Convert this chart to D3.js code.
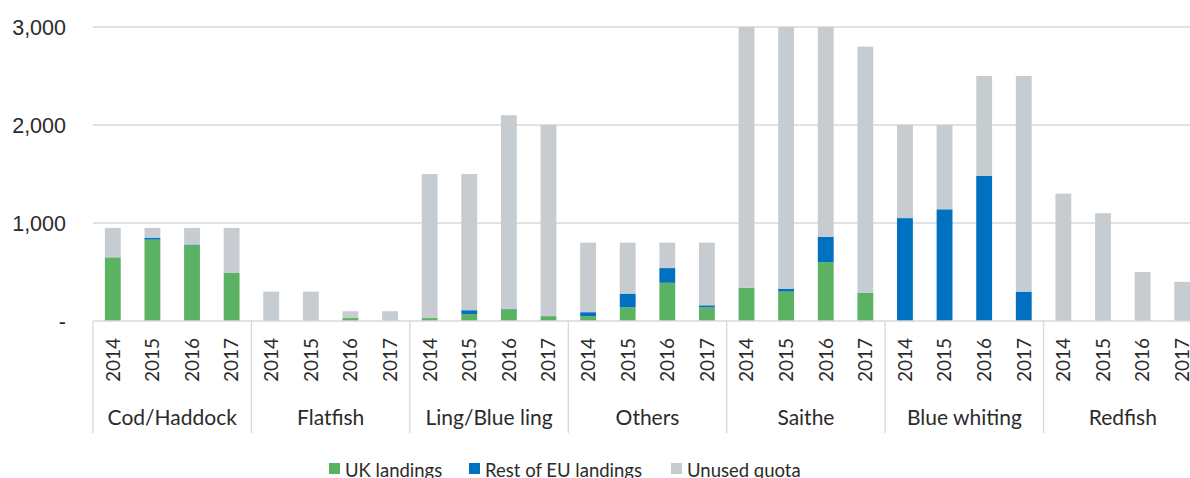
<!DOCTYPE html>
<html>
<head>
<meta charset="utf-8">
<script src="https://cdn.jsdelivr.net/npm/d3@7"></script>
<style>
  html, body { margin: 0; padding: 0; background: #fff; overflow: hidden; }
  svg { display: block; font-family: Lato, "Open Sans", sans-serif; }
</style>
</head>
<body>
<svg id="chart" width="1190" height="478"></svg>
<script>
// Fish stocks, by year
const groups = ["Cod/Haddock", "Flatfish", "Ling/Blue ling", "Others", "Saithe", "Blue whiting", "Redfish"];
const years = ["2014", "2015", "2016", "2017"];

// Tonnes, one value per stock-year (groups × years, in order)
const ukLandings  = [650, 830, 770, 490,   0, 0, 30, 0,      30, 70, 120, 50,       50, 140, 390, 140,   340, 300, 600, 290,     0, 0, 0, 0,            0, 0, 0, 0];
const euLandings  = [0, 20, 10, 0,         0, 0, 0, 0,       0, 40, 5, 0,           40, 140, 150, 20,    0, 30, 260, 0,          1050, 1140, 1480, 300, 0, 0, 0, 0];
const unusedQuota = [300, 100, 170, 460,   300, 300, 70, 100, 1470, 1390, 1975, 1950, 710, 520, 260, 640, 2660, 2670, 2140, 2510, 950, 860, 1020, 2200, 1300, 1100, 500, 400];

const seriesNames = ["UK landings", "Rest of EU landings", "Unused quota"];
const seriesColors = ["#5cb263", "#0070c0", "#c6ccd0"];
const yTicks = [0, 1000, 2000, 3000];

const svg = d3.select("#chart");
const textColor = "#2b2b2b";
const lineColor = "#d9d9d9";

const rows = [];
groups.forEach((g, gi) => years.forEach((y, yi) => {
  const i = gi * 4 + yi;
  rows.push({ key: g + "|" + y, group: g, year: y, uk: ukLandings[i], eu: euLandings[i], unused: unusedQuota[i] });
}));

const x = d3.scaleBand().domain(rows.map(d => d.key)).range([93, 1202]).paddingInner(0.6).paddingOuter(0.3);
const y = d3.scaleLinear().domain([0, 3000]).range([321, 27]);

// Gridlines
svg.append("g").selectAll("line").data(yTicks.filter(t => t > 0)).join("line")
  .attr("x1", 93).attr("x2", 1202)
  .attr("y1", d => y(d)).attr("y2", d => y(d))
  .attr("stroke", lineColor).attr("stroke-width", 1.3);

// Y axis labels
const yAxis = d3.axisLeft(y).tickValues(yTicks)
  .tickFormat(d => d === 0 ? "-" : d3.format(",")(d)).tickSize(0).tickPadding(0);
const yg = svg.append("g").attr("transform", "translate(66,0)").call(yAxis);
yg.select(".domain").remove();
yg.selectAll("text").attr("fill", textColor).style("font-size", "21.5px").attr("dy", "0.34em");

// Stacked bars
const stack = d3.stack().keys(["uk", "eu", "unused"]);
const stacked = stack(rows);
svg.append("g").selectAll("g").data(stacked).join("g")
  .attr("fill", (d, i) => seriesColors[i])
  .selectAll("rect").data(d => d.map(v => Object.assign(v, { key: v.data.key }))).join("rect")
  .attr("x", d => x(d.key))
  .attr("width", x.bandwidth())
  .attr("y", d => y(d[1]))
  .attr("height", d => Math.max(0, y(d[0]) - y(d[1])));

// Category axis line and group separators
const step = x.step();
svg.append("line").attr("x1", 93).attr("x2", 1202).attr("y1", 321).attr("y2", 321)
  .attr("stroke", lineColor).attr("stroke-width", 1.3);
const sepX = d3.range(groups.length + 1).map(i => 93 + i * (1109 / groups.length));
svg.append("g").selectAll("line").data(sepX).join("line")
  .attr("x1", d => d).attr("x2", d => d).attr("y1", 321).attr("y2", 433)
  .attr("stroke", lineColor).attr("stroke-width", 1.3);

// Year labels (rotated)
svg.append("g").selectAll("text").data(rows).join("text")
  .attr("transform", d => `translate(${x(d.key) + x.bandwidth() / 2},360) rotate(-90)`)
  .attr("text-anchor", "middle").attr("dy", "0.36em")
  .attr("fill", textColor).style("font-size", "19px")
  .text(d => d.year);

// Group labels
svg.append("g").selectAll("text").data(groups).join("text")
  .attr("x", (d, i) => (sepX[i] + sepX[i + 1]) / 2)
  .attr("y", 425)
  .attr("text-anchor", "middle")
  .attr("fill", textColor).style("font-size", "21px")
  .text(d => d);

// Legend
const legendItems = [
  { name: seriesNames[0], color: seriesColors[0], x: 329 },
  { name: seriesNames[1], color: seriesColors[1], x: 469 },
  { name: seriesNames[2], color: seriesColors[2], x: 671 }
];
const lg = svg.append("g").selectAll("g").data(legendItems).join("g")
  .attr("transform", d => `translate(${d.x},0)`);
lg.append("rect").attr("x", 0).attr("y", 463).attr("width", 11).attr("height", 11).attr("fill", d => d.color);
lg.append("text").attr("x", 16).attr("y", 477).attr("fill", textColor).style("font-size", "18.5px").text(d => d.name);
</script>
</body>
</html>
